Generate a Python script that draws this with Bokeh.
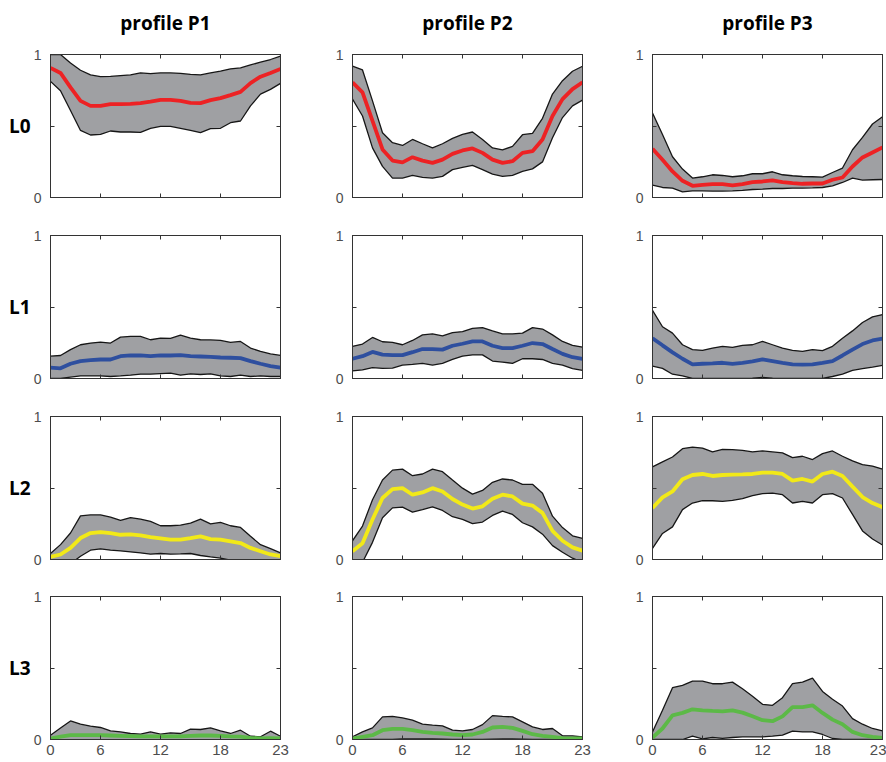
from bokeh.plotting import figure
from bokeh.layouts import gridplot
from bokeh.models import Range1d, LinearAxis, FixedTicker
from bokeh.embed import file_html
from bokeh.resources import INLINE

# x positions (MATLAB style 1..24) and their tick labels (hours)
positions = list(range(1, 25))
x_tick_pos = [1, 6, 12, 18, 24]
x_tick_labels = ["0", "6", "12", "18", "23"]
y_label_pos = [0, 1]
y_label_text = ["0", "1"]
y_unlabeled_pos = [0.5]

profiles = ["profile P1", "profile P2", "profile P3"]
levels = ["L0", "L1", "L2", "L3"]
level_colors = ["#ED2224", "#2E4F9F", "#F2E918", "#5CB947"]

# ---- L0 ----
L0_P1_upper = [1.0, 1.0, 0.94, 0.89, 0.857, 0.845, 0.847, 0.852, 0.857, 0.871, 0.866, 0.871, 0.871, 0.868, 0.861, 0.857, 0.871, 0.883, 0.899, 0.906, 0.927, 0.946, 0.965, 0.988]
L0_P1_lower = [0.812, 0.746, 0.608, 0.469, 0.437, 0.441, 0.465, 0.458, 0.458, 0.455, 0.484, 0.498, 0.498, 0.484, 0.469, 0.453, 0.481, 0.484, 0.523, 0.535, 0.641, 0.723, 0.756, 0.798]
L0_P1_mean = [0.906, 0.871, 0.77, 0.676, 0.641, 0.641, 0.653, 0.653, 0.655, 0.66, 0.671, 0.683, 0.683, 0.676, 0.662, 0.66, 0.681, 0.695, 0.716, 0.739, 0.80, 0.845, 0.871, 0.899]

L0_P2_upper = [0.918, 0.892, 0.676, 0.453, 0.383, 0.364, 0.406, 0.376, 0.347, 0.376, 0.413, 0.441, 0.458, 0.406, 0.347, 0.333, 0.357, 0.439, 0.448, 0.554, 0.723, 0.817, 0.883, 0.918]
L0_P2_lower = [0.688, 0.570, 0.347, 0.218, 0.136, 0.136, 0.155, 0.141, 0.136, 0.148, 0.195, 0.211, 0.225, 0.195, 0.164, 0.148, 0.155, 0.183, 0.20, 0.249, 0.418, 0.559, 0.641, 0.681]
L0_P2_mean = [0.805, 0.735, 0.535, 0.336, 0.258, 0.246, 0.282, 0.258, 0.242, 0.265, 0.305, 0.329, 0.343, 0.312, 0.265, 0.242, 0.254, 0.312, 0.324, 0.406, 0.570, 0.688, 0.758, 0.805]

L0_P3_upper = [0.591, 0.44, 0.285, 0.199, 0.136, 0.145, 0.159, 0.154, 0.145, 0.152, 0.166, 0.166, 0.18, 0.159, 0.152, 0.147, 0.145, 0.143, 0.175, 0.206, 0.334, 0.42, 0.514, 0.565]
L0_P3_lower = [0.086, 0.07, 0.065, 0.04, 0.047, 0.047, 0.045, 0.045, 0.047, 0.05, 0.056, 0.058, 0.063, 0.063, 0.065, 0.065, 0.067, 0.07, 0.082, 0.105, 0.136, 0.122, 0.124, 0.126]
L0_P3_mean = [0.341, 0.264, 0.182, 0.117, 0.082, 0.089, 0.093, 0.093, 0.084, 0.093, 0.107, 0.112, 0.119, 0.107, 0.1, 0.096, 0.098, 0.098, 0.124, 0.14, 0.217, 0.28, 0.315, 0.35]

# ---- L1 ----
L1_P1_upper = [0.156, 0.161, 0.202, 0.236, 0.248, 0.255, 0.248, 0.289, 0.294, 0.294, 0.271, 0.282, 0.28, 0.303, 0.282, 0.271, 0.27, 0.266, 0.252, 0.259, 0.213, 0.19, 0.172, 0.161]
L1_P1_lower = [0.0, 0.0, 0.01, 0.018, 0.018, 0.018, 0.014, 0.018, 0.023, 0.03, 0.03, 0.034, 0.037, 0.023, 0.032, 0.028, 0.032, 0.018, 0.014, 0.023, 0.014, 0.018, 0.014, 0.014]
L1_P1_mean = [0.076, 0.071, 0.103, 0.122, 0.128, 0.133, 0.133, 0.156, 0.161, 0.161, 0.156, 0.161, 0.161, 0.163, 0.156, 0.154, 0.151, 0.147, 0.145, 0.142, 0.122, 0.103, 0.087, 0.076]

L1_P2_upper = [0.225, 0.241, 0.287, 0.257, 0.252, 0.236, 0.266, 0.305, 0.312, 0.298, 0.321, 0.328, 0.351, 0.356, 0.333, 0.312, 0.312, 0.317, 0.356, 0.346, 0.305, 0.259, 0.232, 0.22]
L1_P2_lower = [0.053, 0.06, 0.076, 0.071, 0.073, 0.094, 0.099, 0.106, 0.094, 0.106, 0.133, 0.156, 0.165, 0.165, 0.122, 0.115, 0.106, 0.138, 0.138, 0.133, 0.106, 0.094, 0.069, 0.057]
L1_P2_mean = [0.138, 0.156, 0.186, 0.167, 0.163, 0.163, 0.184, 0.206, 0.206, 0.202, 0.229, 0.243, 0.259, 0.259, 0.229, 0.213, 0.213, 0.229, 0.248, 0.241, 0.206, 0.172, 0.149, 0.138]

L1_P3_upper = [0.477, 0.362, 0.317, 0.236, 0.202, 0.197, 0.213, 0.225, 0.218, 0.232, 0.236, 0.259, 0.236, 0.213, 0.197, 0.19, 0.202, 0.195, 0.225, 0.282, 0.333, 0.392, 0.431, 0.447]
L1_P3_lower = [0.087, 0.071, 0.03, 0.018, 0.0, 0.0, 0.0, 0.0, 0.0, 0.0, 0.003, 0.007, 0.003, 0.0, 0.0, 0.0, 0.0, 0.0, 0.014, 0.03, 0.057, 0.069, 0.08, 0.092]
L1_P3_mean = [0.282, 0.232, 0.183, 0.138, 0.099, 0.103, 0.106, 0.11, 0.103, 0.11, 0.119, 0.133, 0.122, 0.11, 0.099, 0.097, 0.099, 0.11, 0.122, 0.161, 0.202, 0.241, 0.266, 0.278]

# ---- L2 ----
L2_P1_upper = [0.042, 0.104, 0.185, 0.305, 0.312, 0.312, 0.296, 0.273, 0.293, 0.282, 0.266, 0.236, 0.236, 0.24, 0.254, 0.282, 0.249, 0.259, 0.236, 0.224, 0.162, 0.104, 0.076, 0.046]
L2_P1_lower = [-0.15, -0.1, -0.03, 0.023, 0.065, 0.074, 0.065, 0.06, 0.053, 0.046, 0.037, 0.042, 0.037, 0.039, 0.042, 0.028, 0.018, 0.009, -0.005, -0.02, -0.04, -0.06, -0.08, -0.1]
L2_P1_mean = [0.018, 0.035, 0.081, 0.15, 0.185, 0.192, 0.185, 0.173, 0.176, 0.169, 0.157, 0.148, 0.139, 0.139, 0.15, 0.162, 0.143, 0.139, 0.127, 0.115, 0.081, 0.058, 0.035, 0.023]

L2_P2_upper = [0.131, 0.234, 0.418, 0.556, 0.625, 0.632, 0.586, 0.598, 0.632, 0.614, 0.556, 0.499, 0.457, 0.483, 0.54, 0.563, 0.556, 0.526, 0.526, 0.464, 0.303, 0.223, 0.166, 0.147]
L2_P2_lower = [-0.1, -0.02, 0.12, 0.292, 0.361, 0.366, 0.331, 0.349, 0.368, 0.343, 0.299, 0.28, 0.251, 0.262, 0.308, 0.338, 0.315, 0.257, 0.228, 0.177, 0.097, 0.051, 0.009, -0.02]
L2_P2_mean = [0.057, 0.113, 0.28, 0.43, 0.492, 0.499, 0.453, 0.469, 0.499, 0.476, 0.423, 0.384, 0.356, 0.372, 0.425, 0.453, 0.441, 0.391, 0.377, 0.326, 0.2, 0.131, 0.085, 0.062]

L2_P3_upper = [0.648, 0.683, 0.717, 0.775, 0.786, 0.779, 0.752, 0.77, 0.768, 0.763, 0.752, 0.759, 0.752, 0.745, 0.713, 0.722, 0.699, 0.74, 0.759, 0.722, 0.69, 0.664, 0.653, 0.632]
L2_P3_lower = [0.078, 0.182, 0.228, 0.349, 0.395, 0.411, 0.411, 0.407, 0.414, 0.425, 0.446, 0.46, 0.464, 0.453, 0.395, 0.407, 0.395, 0.453, 0.46, 0.43, 0.315, 0.2, 0.143, 0.101]
L2_P3_mean = [0.361, 0.434, 0.476, 0.561, 0.591, 0.598, 0.584, 0.591, 0.593, 0.595, 0.598, 0.607, 0.607, 0.598, 0.552, 0.563, 0.545, 0.598, 0.614, 0.584, 0.51, 0.437, 0.395, 0.366]

# ---- L3 ----
L3_P1_upper = [0.03, 0.081, 0.13, 0.107, 0.093, 0.084, 0.06, 0.053, 0.042, 0.037, 0.053, 0.037, 0.046, 0.042, 0.072, 0.07, 0.081, 0.06, 0.042, 0.065, 0.023, 0.019, 0.058, 0.023]
L3_P1_lower = [-0.01, -0.01, -0.01, -0.01, -0.01, -0.01, -0.01, -0.01, -0.01, -0.01, -0.01, -0.01, -0.01, -0.01, -0.01, -0.01, -0.01, -0.01, -0.01, -0.01, -0.01, -0.01, -0.01, -0.01]
L3_P1_mean = [0.007, 0.02, 0.03, 0.03, 0.03, 0.03, 0.028, 0.026, 0.024, 0.022, 0.022, 0.022, 0.022, 0.022, 0.026, 0.028, 0.028, 0.026, 0.022, 0.02, 0.012, 0.008, 0.01, 0.008]

L3_P2_upper = [0.019, 0.053, 0.081, 0.158, 0.162, 0.151, 0.135, 0.107, 0.1, 0.095, 0.065, 0.06, 0.07, 0.104, 0.167, 0.162, 0.158, 0.123, 0.088, 0.07, 0.077, 0.026, 0.026, 0.019]
L3_P2_lower = [0.0, 0.0, 0.0, 0.0, 0.0, 0.005, 0.005, 0.005, 0.005, 0.003, 0.0, 0.0, 0.0, 0.0, 0.003, 0.005, 0.005, 0.003, 0.0, 0.0, 0.0, 0.0, 0.0, 0.0]
L3_P2_mean = [0.007, 0.019, 0.03, 0.065, 0.074, 0.074, 0.065, 0.053, 0.046, 0.042, 0.035, 0.03, 0.035, 0.053, 0.084, 0.088, 0.081, 0.06, 0.037, 0.026, 0.019, 0.01, 0.008, 0.007]

L3_P3_upper = [0.053, 0.204, 0.362, 0.378, 0.408, 0.408, 0.39, 0.39, 0.401, 0.355, 0.302, 0.246, 0.239, 0.292, 0.39, 0.401, 0.429, 0.336, 0.281, 0.234, 0.146, 0.107, 0.077, 0.06]
L3_P3_lower = [0.0, 0.0, 0.0, 0.0, 0.023, 0.005, 0.014, 0.008, 0.014, 0.019, 0.019, 0.019, 0.023, 0.03, 0.058, 0.053, 0.053, 0.035, 0.007, 0.0, 0.0, 0.0, 0.0, 0.0]
L3_P3_mean = [0.014, 0.077, 0.169, 0.186, 0.211, 0.204, 0.2, 0.197, 0.204, 0.188, 0.162, 0.135, 0.128, 0.162, 0.227, 0.227, 0.239, 0.186, 0.139, 0.107, 0.053, 0.03, 0.019, 0.012]

panels = [
    [(L0_P1_upper, L0_P1_lower, L0_P1_mean), (L0_P2_upper, L0_P2_lower, L0_P2_mean), (L0_P3_upper, L0_P3_lower, L0_P3_mean)],
    [(L1_P1_upper, L1_P1_lower, L1_P1_mean), (L1_P2_upper, L1_P2_lower, L1_P2_mean), (L1_P3_upper, L1_P3_lower, L1_P3_mean)],
    [(L2_P1_upper, L2_P1_lower, L2_P1_mean), (L2_P2_upper, L2_P2_lower, L2_P2_mean), (L2_P3_upper, L2_P3_lower, L2_P3_mean)],
    [(L3_P1_upper, L3_P1_lower, L3_P1_mean), (L3_P2_upper, L3_P2_lower, L3_P2_mean), (L3_P3_upper, L3_P3_lower, L3_P3_mean)],
]

FRAME_W, FRAME_H = 230, 143
BORDER_L = [50, 36, 36]
BORDER_R = [36, 34, 4]
BORDER_T = [54, 19, 19, 19]
BORDER_B = [19, 19, 18, 23]
FRAME_COLOR = "#333333"
TICK_FONT = "Liberation Sans"
BOLD_FONT = "Open Sans"
BAND_FILL = "#9fa0a3"
BAND_LINE = "#161616"


def style_axis(ax):
    ax.axis_line_color = FRAME_COLOR
    ax.axis_line_width = 1
    ax.major_tick_line_color = FRAME_COLOR
    ax.major_tick_in = 4
    ax.major_tick_out = 0
    ax.minor_tick_line_color = FRAME_COLOR
    ax.minor_tick_in = 4
    ax.minor_tick_out = 0
    ax.major_label_text_font = TICK_FONT
    ax.major_label_text_color = "#4d4d4d"
    ax.major_label_text_font_size = "14px"


def tick_only_axis(ticks):
    # ticks drawn as (unlabelled) minor ticks
    ax = LinearAxis(ticker=FixedTicker(ticks=[], minor_ticks=ticks))
    style_axis(ax)
    ax.major_label_standoff = 0
    return ax


def make_panel(r, c):
    upper, lower, mean = panels[r][c]
    bl, br, bt, bb = BORDER_L[c], BORDER_R[c], BORDER_T[r], BORDER_B[r]
    p = figure(width=bl + FRAME_W + br, height=bt + FRAME_H + bb,
               x_range=Range1d(1, 24), y_range=Range1d(0, 1),
               x_axis_location=None, y_axis_location=None,
               output_backend="svg", toolbar_location=None,
               min_border_left=bl, min_border_right=br,
               min_border_top=bt, min_border_bottom=bb)
    p.outline_line_color = FRAME_COLOR
    p.outline_line_width = 1
    p.background_fill_color = "white"
    p.border_fill_color = "white"
    p.xgrid.grid_line_color = None
    p.ygrid.grid_line_color = None

    if r == 3:
        xb = LinearAxis(ticker=FixedTicker(ticks=x_tick_pos),
                        major_label_overrides=dict(zip(x_tick_pos, x_tick_labels)))
        style_axis(xb)
        xb.major_label_text_font_size = "15px"
        xb.major_label_standoff = 5
    else:
        xb = tick_only_axis(x_tick_pos)
    p.add_layout(xb, "below")

    xt = tick_only_axis(x_tick_pos)
    if r == 0:
        # column title carried by the top (mirror) axis
        xt.axis_label = profiles[c]
        xt.axis_label_text_font = BOLD_FONT
        xt.axis_label_text_font_style = "bold"
        xt.axis_label_text_font_size = "19px"
        xt.axis_label_text_color = "black"
        xt.axis_label_standoff = 19
    p.add_layout(xt, "above")

    yl = LinearAxis(ticker=FixedTicker(ticks=y_label_pos, minor_ticks=y_unlabeled_pos),
                    major_label_overrides=dict(zip(y_label_pos, y_label_text)))
    style_axis(yl)
    yl.major_label_standoff = 9
    if c == 0:
        yl.axis_label = levels[r]
        yl.axis_label_orientation = "horizontal"
        yl.axis_label_text_font = BOLD_FONT
        yl.axis_label_text_font_style = "bold"
        yl.axis_label_text_font_size = "19px"
        yl.axis_label_text_color = "black"
        yl.axis_label_standoff = 0
    p.add_layout(yl, "left")
    p.add_layout(tick_only_axis(y_label_pos + y_unlabeled_pos), "right")

    p.varea(x=positions, y1=lower, y2=upper, fill_color=BAND_FILL, fill_alpha=1.0)
    p.line(positions, upper, line_color=BAND_LINE, line_width=1.3)
    p.line(positions, lower, line_color=BAND_LINE, line_width=1.3)
    p.line(positions, mean, line_color=level_colors[r], line_width=3.8)
    return p


grid = gridplot([[make_panel(r, c) for c in range(3)] for r in range(4)],
                toolbar_location=None)

open("out.html", "w").write(file_html(grid, INLINE))
